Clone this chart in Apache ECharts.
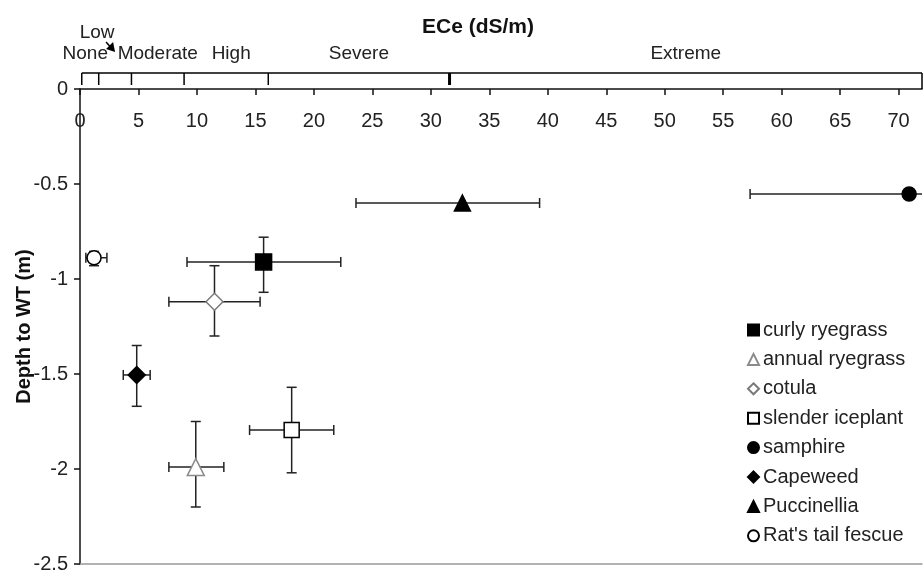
<!DOCTYPE html>
<html>
<head>
<meta charset="utf-8">
<script src="https://cdn.jsdelivr.net/npm/echarts@6/dist/echarts.min.js"></script>
<style>
html,body{margin:0;padding:0;background:#fff;}
#chart{width:923px;height:573px;}
</style>
</head>
<body>
<div id="chart"></div>
<script>
// ---- data ----
const species = ['curly ryegrass', 'annual ryegrass', 'cotula', 'slender iceplant', 'samphire', 'Capeweed', 'Puccinellia', "Rat's tail fescue"];
const ece     = [15.7, 9.9, 11.5, 18.1, 70.9, 4.85, 32.7, 1.2];
const eceLo   = [9.15, 7.6, 7.6, 14.5, 57.3, 3.7, 23.6, 0.5];
const eceHi   = [22.3, 12.3, 15.4, 21.7, 84.5, 6.0, 39.3, 2.3];
const depth   = [-0.91, -1.99, -1.12, -1.795, -0.553, -1.505, -0.60, -0.888];
const depthLo = [-1.07, -2.20, -1.30, -2.02, -0.553, -1.67, -0.60, -0.93];
const depthHi = [-0.78, -1.75, -0.93, -1.57, -0.553, -1.35, -0.60, -0.855];
const classBounds = [0.15, 1.6, 4.4, 8.9, 16.1, 31.6, 72];
const classNames = ['None', 'Low', 'Moderate', 'High', 'Severe', 'Extreme'];
const xMin = 0, xMax = 72, xStep = 5;
const yMin = -2.5, yMax = 0, yStep = 0.5;

// ---- styles ----
const FONT = 'Liberation Sans, Arial, sans-serif';
const markerStyles = [
  {symbol: 'rect', size: 16, color: '#000', border: '#000'},
  {symbol: 'triangle', size: 17, color: '#fff', border: '#8a8a8a'},
  {symbol: 'diamond', size: 17, color: '#fff', border: '#7a7a7a'},
  {symbol: 'rect', size: 15, color: '#fff', border: '#000'},
  {symbol: 'circle', size: 14, color: '#000', border: '#000'},
  {symbol: 'diamond', size: 17, color: '#000', border: '#000'},
  {symbol: 'triangle', size: 16, color: '#000', border: '#000'},
  {symbol: 'circle', size: 14, color: '#fff', border: '#000'}
];

const chart = echarts.init(document.getElementById('chart'), null, {renderer: 'canvas'});

function renderErr(params, api) {
  const x = api.value(0), y = api.value(1);
  const xl = api.value(2), xh = api.value(3), yl = api.value(4), yh = api.value(5);
  const pl = api.coord([xl, y]), ph = api.coord([xh, y]);
  const vl = api.coord([x, yl]), vh = api.coord([x, yh]);
  const cap = 5;
  const st = {stroke: '#222', lineWidth: 1.5};
  const ch = [];
  if (xh > xl) {
    ch.push({type: 'line', shape: {x1: pl[0], y1: pl[1], x2: ph[0], y2: ph[1]}, style: st});
    ch.push({type: 'line', shape: {x1: pl[0], y1: pl[1] - cap, x2: pl[0], y2: pl[1] + cap}, style: st});
    ch.push({type: 'line', shape: {x1: ph[0], y1: ph[1] - cap, x2: ph[0], y2: ph[1] + cap}, style: st});
  }
  if (yh > yl) {
    ch.push({type: 'line', shape: {x1: vl[0], y1: vl[1], x2: vh[0], y2: vh[1]}, style: st});
    ch.push({type: 'line', shape: {x1: vl[0] - cap, y1: vl[1], x2: vl[0] + cap, y2: vl[1]}, style: st});
    ch.push({type: 'line', shape: {x1: vh[0] - cap, y1: vh[1], x2: vh[0] + cap, y2: vh[1]}, style: st});
  }
  return {type: 'group', children: ch};
}

function renderBracket(params, api) {
  const i = params.dataIndex;
  const b = api.value(0);
  const top = api.coord([b, 1]);
  const bot = api.coord([b, 0]);
  const last = i === classBounds.length - 1;
  const thick = classBounds[i] === 31.6;
  const ch = [];
  let yEnd = bot[1];
  if (last) yEnd = bot[1] + 4;
  ch.push({type: 'line', shape: {x1: top[0], y1: top[1], x2: top[0], y2: yEnd},
    style: {stroke: '#000', lineWidth: thick ? 3 : 1.5}});
  if (i === 0) {
    const end = api.coord([classBounds[classBounds.length - 1], 1]);
    ch.push({type: 'line', shape: {x1: top[0], y1: top[1], x2: end[0], y2: end[1]},
      style: {stroke: '#000', lineWidth: 1.5}});
  }
  return {type: 'group', children: ch};
}

function renderClassLabel(params, api) {
  const i = params.dataIndex;
  const p = api.coord([api.value(0), 1]);
  const name = classNames[i];
  const ch = [];
  const font = '19px ' + FONT;
  if (name === 'Low') {
    const lx = p[0] - 18, ly = p[1] - 40;
    ch.push({type: 'text', x: lx, y: ly, style: {text: name, fill: '#222', font: font, align: 'center', verticalAlign: 'middle'}});
    const sx = lx + 9, sy = ly + 9, ex = lx + 18, ey = ly + 19;
    ch.push({type: 'line', shape: {x1: sx, y1: sy, x2: ex - 2, y2: ey - 2}, style: {stroke: '#000', lineWidth: 1.5}});
    ch.push({type: 'polygon', shape: {points: [[ex, ey], [ex - 9, ey - 3], [ex - 2, ey - 10]]}, style: {fill: '#000'}});
  } else {
    let x = p[0];
    if (name === 'None') x -= 5;
    if (name === 'High') x += 5;
    ch.push({type: 'text', x: x, y: p[1] - 19, style: {text: name, fill: '#222', font: font, align: 'center', verticalAlign: 'middle'}});
  }
  return {type: 'group', children: ch};
}

const errData = species.map((s, i) => [ece[i], depth[i], eceLo[i], eceHi[i], depthLo[i], depthHi[i]]);
const classMid = classNames.map((n, i) => [(classBounds[i] + classBounds[i + 1]) / 2, 1]);

const series = [
  {
    type: 'custom', name: 'err', xAxisIndex: 0, yAxisIndex: 0,
    renderItem: renderErr, data: errData, clip: true, z: 2, silent: true,
    encode: {x: [0, 2, 3], y: [1, 4, 5]}
  },
  {
    type: 'custom', name: 'bracket', xAxisIndex: 2, yAxisIndex: 1,
    renderItem: renderBracket, data: classBounds.map(b => [b, 1]), clip: false, z: 3, silent: true
  },
  {
    type: 'custom', name: 'classes', xAxisIndex: 2, yAxisIndex: 1,
    renderItem: renderClassLabel, data: classMid, clip: false, z: 3, silent: true
  }
];
species.forEach((s, i) => {
  const m = markerStyles[i];
  series.push({
    type: 'scatter', name: s, xAxisIndex: 0, yAxisIndex: 0,
    symbol: m.symbol, symbolSize: m.size,
    itemStyle: {color: m.color, borderColor: m.border, borderWidth: 1.5, opacity: 1},
    data: [[ece[i], depth[i]]], z: 5, clip: true
  });
});

const option = {
  backgroundColor: '#fff',
  animation: false,
  textStyle: {fontFamily: FONT},
  title: {
    text: 'ECe (dS/m)', left: 417, top: 12,
    textStyle: {fontFamily: FONT, fontWeight: 'bold', fontSize: 21, color: '#111'}
  },
  legend: {
    data: species, orient: 'vertical', left: 742, top: 315,
    itemWidth: 11, itemHeight: 11, itemGap: 9.4,
    textStyle: {fontFamily: FONT, fontSize: 20, color: '#222', padding: [0, 0, 0, -1]},
    selectedMode: false
  },
  grid: [
    {left: 80, right: 1, top: 89, bottom: 9, containLabel: false, outerBoundsMode: 'none'},
    {left: 80, right: 1, top: 73, height: 12, containLabel: false, outerBoundsMode: 'none'}
  ],
  xAxis: [
    {
      type: 'value', gridIndex: 0, position: 'top', min: xMin, max: xMax, interval: xStep,
      axisLine: {show: true, onZero: false, lineStyle: {color: '#111', width: 1.5}},
      axisTick: {show: true, inside: true, length: 6, lineStyle: {color: '#111', width: 1.5}},
      axisLabel: {inside: true, margin: 22, showMaxLabel: false, color: '#222', fontSize: 20, fontFamily: FONT},
      splitLine: {show: false}
    },
    {
      type: 'value', gridIndex: 0, position: 'bottom', min: xMin, max: xMax,
      axisLine: {show: true, onZero: false, lineStyle: {color: '#999', width: 1.5}},
      axisTick: {show: false}, axisLabel: {show: false}, splitLine: {show: false}
    },
    {
      type: 'value', gridIndex: 1, min: xMin, max: xMax, show: false
    }
  ],
  yAxis: [
    {
      type: 'value', gridIndex: 0, min: yMin, max: yMax, interval: yStep,
      name: 'Depth to WT (m)', nameLocation: 'middle', nameRotate: 90, nameGap: 46,
      nameMoveOverlap: false,
      nameTextStyle: {fontFamily: FONT, fontWeight: 'bold', fontSize: 20, color: '#111'},
      axisLine: {show: true, onZero: false, lineStyle: {color: '#111', width: 1.5}},
      axisTick: {show: true, inside: false, length: 6, lineStyle: {color: '#111', width: 1.5}},
      axisLabel: {margin: 12, color: '#222', fontSize: 20, fontFamily: FONT},
      splitLine: {show: false}
    },
    {
      type: 'value', gridIndex: 1, min: 0, max: 1, show: false
    }
  ],
  series: series
};
chart.setOption(option);
</script>
</body>
</html>
